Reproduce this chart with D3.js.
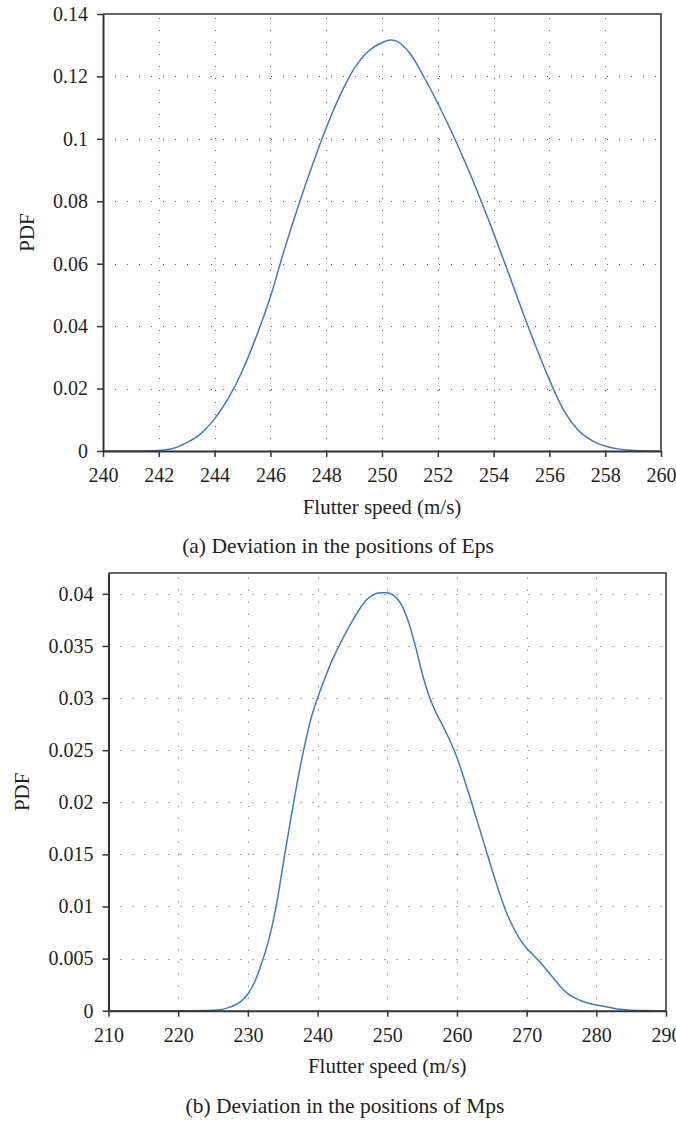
<!DOCTYPE html>
<html><head><meta charset="utf-8">
<script src="https://cdn.jsdelivr.net/npm/d3@7"></script>
<style>
html,body{margin:0;padding:0;background:#fff;}
svg text{font-family:"Liberation Serif","Times New Roman",serif;fill:#231f20;}
</style></head>
<body><svg id="c" width="676" height="1122"></svg>
<script>
// ---- Data: panel (a) Deviation in the positions of Eps ----
const speedA = [240,241,242,242.5,243,243.5,244,244.5,245,245.5,246,246.5,247,247.5,248,248.5,249,249.5,250,250.3,250.5,251,251.5,252,252.5,253,253.5,254,254.5,255,255.5,256,256.5,257,257.5,258,258.5,259,259.5,260];
const pdfA   = [0,0,0.0002,0.0008,0.0027,0.0055,0.0103,0.017,0.0258,0.0368,0.0494,0.0645,0.0785,0.0915,0.1035,0.1140,0.1225,0.1280,0.1308,0.1317,0.1314,0.1274,0.1199,0.1114,0.1021,0.0921,0.0813,0.0698,0.0578,0.0456,0.0338,0.0228,0.0133,0.0070,0.0035,0.0016,0.0006,0.0002,0.00003,0];
const xTicksA = [240,242,244,246,248,250,252,254,256,258,260];
const yTicksA = [0,0.02,0.04,0.06,0.08,0.1,0.12,0.14];
const yTickLabelsA = ["0","0.02","0.04","0.06","0.08","0.1","0.12","0.14"];

// ---- Data: panel (b) Deviation in the positions of Mps ----
const speedB = [210,220,224,226,227,228,229,230,231,232,233,234,235,236,237,238,239,240,241,242,243,244,245,246,247,248,249,250,251,252,253,254,255,256,257,258,259,260,261,262,263,264,265,266,267,268,269,270,271,272,273,274,275,276,277,278,279,280,282,283.4,285,287,290];
const pdfB   = [0,0,0.00003,0.0001,0.00025,0.0005,0.0009,0.0016,0.0028,0.0046,0.0068,0.0098,0.0138,0.0178,0.0216,0.0250,0.0279,0.0300,0.0318,0.0335,0.0349,0.0362,0.0374,0.0385,0.0394,0.0399,0.0401,0.0401,0.0398,0.0390,0.0374,0.0351,0.0324,0.0302,0.0286,0.0273,0.0259,0.0243,0.0223,0.0202,0.0180,0.0158,0.0136,0.0115,0.0096,0.0081,0.0069,0.0060,0.0053,0.0046,0.0038,0.0030,0.0022,0.0016,0.0012,0.0009,0.0007,0.00055,0.0003,0.00013,0.00004,0.00001,0];
const xTicksB = [210,220,230,240,250,260,270,280,290];
const yTicksB = [0,0.005,0.01,0.015,0.02,0.025,0.03,0.035,0.04];
const yTickLabelsB = ["0","0.005","0.01","0.015","0.02","0.025","0.03","0.035","0.04"];

const xTitle = "Flutter speed (m/s)";
const yTitle = "PDF";
const captions = ["(a) Deviation in the positions of Eps","(b) Deviation in the positions of Mps"];

const svg = d3.select("#c");

function panel(o){
  const x = d3.scaleLinear().domain(o.xDomain).range([o.left,o.right]);
  const y = d3.scaleLinear().domain(o.yDomain).range([o.bottom,o.top]);
  const g = svg.append("g");
  // grid
  const grid = g.append("g").attr("stroke","#555").attr("stroke-width",1).attr("stroke-dasharray","1,11").attr("fill","none");
  o.xTicks.forEach(t=>{ if(t!==o.xDomain[0] && t!==o.xDomain[1])
    grid.append("line").attr("x1",Math.round(x(t))+0.5).attr("x2",Math.round(x(t))+0.5).attr("y1",o.bottom).attr("y2",o.top);});
  o.yTicks.forEach(t=>{ if(t!==0 && y(t)>o.top+1)
    grid.append("line").attr("y1",Math.round(y(t))+0.5).attr("y2",Math.round(y(t))+0.5).attr("x1",o.left).attr("x2",o.right);});
  // frame top/right
  g.append("path").attr("d",`M${o.left},${o.top}H${o.right}V${o.bottom}`).attr("fill","none").attr("stroke","#333").attr("stroke-width",1.5);
  // curve
  const line = d3.line().x((d,i)=>x(o.xs[i])).y(d=>y(d)).curve(d3.curveMonotoneX);
  g.append("path").datum(o.ys).attr("d",line).attr("fill","none").attr("stroke","#3a7cc4").attr("stroke-width",1.5);
  // axes
  const xa = g.append("g").attr("transform",`translate(0,${o.bottom})`)
    .call(d3.axisBottom(x).tickValues(o.xTicks).tickSize(6).tickSizeOuter(0).tickFormat(d3.format("d")));
  xa.select(".domain").attr("stroke","#333").attr("stroke-width",2);
  xa.selectAll(".tick line").attr("stroke","#333").attr("stroke-width",1.5);
  xa.selectAll(".tick text").attr("font-size",20).attr("dy",null).attr("y",31).attr("fill","#231f20").attr("font-family","Liberation Serif");
  const ya = g.append("g").attr("transform",`translate(${o.left},0)`)
    .call(d3.axisLeft(y).tickValues(o.yTicks).tickSize(6).tickSizeOuter(0).tickPadding(9).tickFormat((d,i)=>o.yLabels[i]));
  ya.select(".domain").attr("stroke","#333").attr("stroke-width",2);
  ya.selectAll(".tick line").attr("stroke","#333").attr("stroke-width",1.5);
  ya.selectAll(".tick text").attr("font-size",20).attr("fill","#231f20").attr("font-family","Liberation Serif");
  // titles
  g.append("text").attr("x",(o.left+o.right)/2).attr("y",o.bottom+62.5).attr("text-anchor","middle").attr("font-size",21).text(xTitle);
  g.append("text").attr("transform",`translate(${o.yTitleX},${(o.top+o.bottom)/2}) rotate(-90)`).attr("text-anchor","middle").attr("font-size",21).text(yTitle);
  g.append("text").attr("x",o.capX).attr("y",o.capY).attr("text-anchor","middle").attr("font-size",21.5).text(o.caption);
}

panel({xs:speedA, ys:pdfA, xDomain:[240,260], yDomain:[0,0.14], left:103, right:661, top:14, bottom:451,
  xTicks:xTicksA, yTicks:yTicksA, yLabels:yTickLabelsA, yTitleX:34, caption:captions[0], capX:338, capY:553});
panel({xs:speedB, ys:pdfB, xDomain:[210,290], yDomain:[0,0.042], left:108.5, right:666, top:573, bottom:1010.7,
  xTicks:xTicksB, yTicks:yTicksB, yLabels:yTickLabelsB, yTitleX:29, caption:captions[1], capX:345, capY:1112.7});
</script></body></html>
